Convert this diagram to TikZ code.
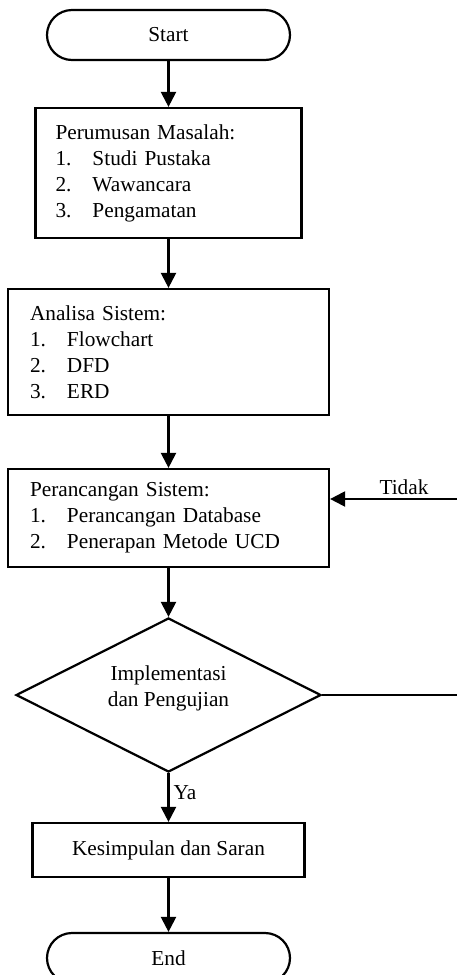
\documentclass[tikz,border=0pt]{standalone}
\usepackage{fontspec}
\setmainfont{Liberation Serif}
\usetikzlibrary{positioning,shapes.geometric,arrows.meta}
\newcommand{\itm}[2]{\makebox[37pt][l]{#1}#2}

\begin{document}
\begin{tikzpicture}[x=1pt,y=-1pt,
  font=\fontsize{21.3}{26}\selectfont,
  term/.style={draw,line width=2.2pt,rounded corners=25pt,minimum width=243pt,minimum height=50pt,inner sep=0pt},
  proc/.style={draw,line width=2.2pt,align=left,inner xsep=20pt,inner ysep=0pt},
  decision/.style={draw,line width=2.2pt,diamond,minimum width=305pt,minimum height=154pt,inner sep=0pt},
  flow/.style={line width=2.2pt,-{Triangle[width=15pt,length=15pt]}}]
  \useasboundingbox (0,0) rectangle (456,975);

  \node[term] (start) at (168.5,35) {Start};
  \node[proc,text width=226pt,minimum height=130pt] (masalah) at (168.5,173)
  {Perumusan Masalah:\\ \itm{1.}{Studi Pustaka}\\ \itm{2.}{Wawancara}\\ \itm{3.}{Pengamatan}};
  \node[proc,inner xsep=22pt,text width=277pt,minimum height=126pt] (analisa) at (168.5,352)
  {Analisa Sistem:\\ \itm{1.}{Flowchart}\\ \itm{2.}{DFD}\\ \itm{3.}{ERD}};
  \node[proc,inner xsep=22pt,text width=277pt,minimum height=98pt] (rancang) at (168.5,518)
  {Perancangan Sistem:\\ \itm{1.}{Perancangan Database}\\ \itm{2.}{Penerapan Metode UCD}};
  \node[decision] (uji) at (168.5,695) {};
  \node[align=center] (ujitext) at (168.5,688) {Implementasi\\dan Pengujian};
  \node[proc,align=center,minimum width=272pt,minimum height=54pt] (simpulan) at (168.5,850)
  {Kesimpulan dan Saran};
  \node[term] (end) at (168.5,958) {End};

  \coordinate (kanan1) at (462,695);
  \coordinate (kanan2) at (462,499);

  \draw[flow] (start) -- (masalah);
  \draw[flow] (masalah) -- (analisa);
  \draw[flow] (analisa) -- (rancang);
  \draw[flow] (rancang) -- (uji);
  \draw[flow] (uji) -- node[pos=0.41,right,inner sep=4pt] (ya) {Ya} (simpulan);
  \draw[flow] (simpulan) -- (end);
  % jalur kembali
  \draw[flow] (uji.east) -- (kanan1) -- (kanan2)
  -- node[pos=0.44,above,inner sep=3pt] (tidak) {Tidak} (kanan2 -| rancang.east);
\end{tikzpicture}
\end{document}
